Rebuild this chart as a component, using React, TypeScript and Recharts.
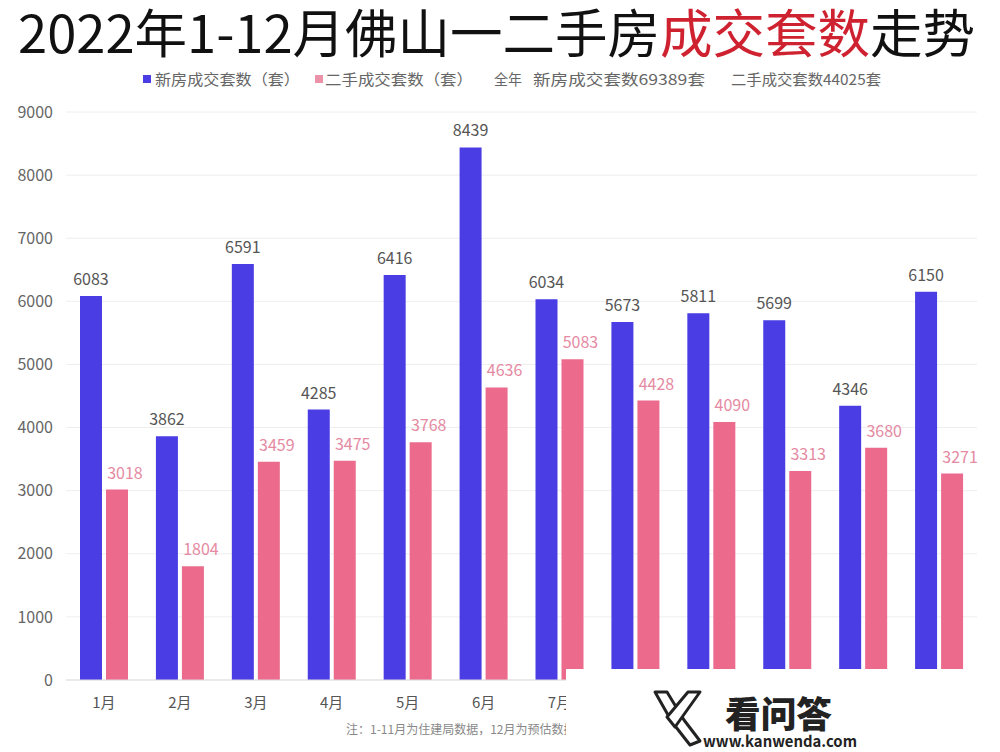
import React from 'react';
import { BarChart, Bar, XAxis, YAxis, CartesianGrid, LabelList } from 'recharts';

const months = ['1月', '2月', '3月', '4月', '5月', '6月', '7月', '8月', '9月', '10月', '11月', '12月'];
const newHomes = [6083, 3862, 6591, 4285, 6416, 8439, 6034, 5673, 5811, 5699, 4346, 6150];
const resale = [3018, 1804, 3459, 3475, 3768, 4636, 5083, 4428, 4090, 3313, 3680, 3271];
const yTicks = [0, 1000, 2000, 3000, 4000, 5000, 6000, 7000, 8000, 9000];

const data = months.map((m, i) => ({ month: m, newHomes: newHomes[i], resale: resale[i] }));

const BLUE = '#4a3de4';
const PINK = '#ec6b8d';

export default function App() {
  return (
    <div
      style={{
        position: 'absolute',
        left: 0,
        top: 0,
        width: 1000,
        height: 752,
        background: '#fff',
        overflow: 'hidden',
        fontFamily: '"Noto Sans CJK SC", "Noto Sans", sans-serif',
      }}
    >
      <BarChart
        width={1000}
        height={752}
        data={data}
        margin={{ top: 112, right: 23, bottom: 42, left: 0 }}
        barGap={4}
        barSize={22}
      >
        <CartesianGrid vertical={false} stroke="#eeeeee" />
        <YAxis
          width={66}
          domain={[0, 9000]}
          ticks={yTicks}
          axisLine={false}
          tickLine={false}
          tickSize={0}
          tickMargin={13}
          tick={{ fill: '#666', fontSize: 16 }}
        />
        <XAxis
          dataKey="month"
          height={30}
          axisLine={{ stroke: '#dddddd' }}
          tickLine={false}
          tickSize={0}
          tickMargin={17}
          tick={{ fill: '#555', fontSize: 15 }}
        />
        <Bar dataKey="newHomes" fill={BLUE} isAnimationActive={false}>
          <LabelList dataKey="newHomes" position="top" offset={11} fill="#555" fontSize={16} />
        </Bar>
        <Bar dataKey="resale" fill={PINK} isAnimationActive={false}>
          <LabelList dataKey="resale" position="top" offset={11} dx={8} fill="#e58aa2" fontSize={16} />
        </Bar>
      </BarChart>
      <svg
        width={1000}
        height={752}
        style={{ position: 'absolute', left: 0, top: 0, pointerEvents: 'none' }}
      >
        <text
          x={18}
          y={53}
          fontSize={52}
          fontWeight={400}
          fill="#111"
          textLength={957}
          lengthAdjust="spacingAndGlyphs"
        >
          2022年1-12月佛山一二手房<tspan fill="#cf2230">成交套数</tspan>走势
        </text>

        <rect x={143} y={75} width={8} height={8} fill={BLUE} />
        <text x={155} y={85} fontSize={15} fill="#666" textLength={145} lengthAdjust="spacingAndGlyphs">
          新房成交套数（套）
        </text>
        <rect x={315} y={75} width={8} height={8} fill="#eb92a8" />
        <text x={325} y={85} fontSize={15} fill="#666" textLength={148} lengthAdjust="spacingAndGlyphs">
          二手成交套数（套）
        </text>
        <text x={494} y={85} fontSize={15} fill="#666" textLength={28} lengthAdjust="spacingAndGlyphs">
          全年
        </text>
        <text x={533} y={85} fontSize={15} fill="#666" textLength={172} lengthAdjust="spacingAndGlyphs">
          新房成交套数69389套
        </text>
        <text x={731} y={85} fontSize={15} fill="#666" textLength={150} lengthAdjust="spacingAndGlyphs">
          二手成交套数44025套
        </text>

        <text x={346} y={734} fontSize={12} fill="#888">
          注：1-11月为住建局数据，12月为预估数据
        </text>

        <rect x={566} y={669} width={434} height={83} fill="#ffffff" />
        <path d="M655 692 L667 692 L684 720 L700 741 L690 745 L672 722 Z" fill="#fff" stroke="#222" strokeWidth={3} strokeLinejoin="round" />
        <path d="M700 692 L688 692 L667 717 L675 727 Z" fill="#fff" stroke="#222" strokeWidth={3} strokeLinejoin="round" />
        <text x={725} y={728} fontSize={36} fontWeight={900} fill="#222" textLength={107} lengthAdjust="spacingAndGlyphs">
          看问答
        </text>
        <text x={703} y={747} fontSize={15} fontWeight={700} fill="#222" textLength={154} lengthAdjust="spacingAndGlyphs">
          www.kanwenda.com
        </text>
      </svg>
    </div>
  );
}
